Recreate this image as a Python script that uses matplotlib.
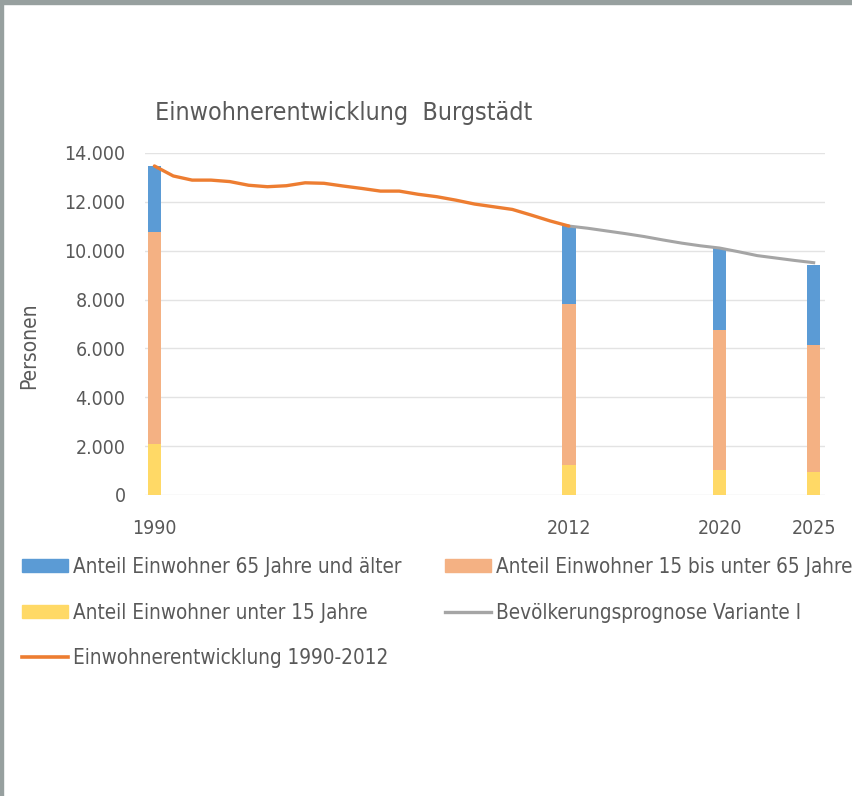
import matplotlib.pyplot as plt
from matplotlib.patches import Rectangle, Patch
from matplotlib.lines import Line2D
from matplotlib.ticker import FuncFormatter

plt.rcParams['font.family'] = ['DejaVu Sans']
plt.rcParams['font.stretch'] = 'condensed'

# Altersstruktur in den Stichjahren
bar_years = [1990, 2012, 2020, 2025]
under_15 = [2100, 1230, 1020, 940]
age_15_65 = [8670, 6590, 5730, 5200]
age_65_plus = [2700, 3190, 3360, 3270]

# Einwohnerentwicklung 1990-2012
hist_years = list(range(1990, 2013))
hist_pop = [13470, 13060, 12890, 12890, 12830, 12680, 12620, 12660, 12780, 12760,
            12650, 12550, 12440, 12440, 12310, 12210, 12070, 11910, 11800, 11690,
            11460, 11220, 11010]

# Bevölkerungsprognose Variante I
prog_years = list(range(2012, 2026))
prog_pop = [11010, 10920, 10810, 10700, 10580, 10440, 10310, 10200, 10110, 9960,
            9800, 9700, 9600, 9510]

c_old = '#5B9BD5'
c_mid = '#F4B183'
c_young = '#FFD966'
c_hist = '#ED7D31'
c_prog = '#A5A5A5'
c_text = '#595959'

fig = plt.figure(figsize=(8.53, 7.96), dpi=100)
ax = fig.add_axes([145 / 853, 1 - 495 / 796, 680 / 853, 342 / 796])

w = 0.72
ax.bar(bar_years, under_15, width=w, color=c_young, zorder=2)
ax.bar(bar_years, age_15_65, width=w, bottom=under_15, color=c_mid, zorder=2)
base = [a + b for a, b in zip(under_15, age_15_65)]
ax.bar(bar_years, age_65_plus, width=w, bottom=base, color=c_old, zorder=2)

ax.plot(prog_years, prog_pop, color=c_prog, lw=2.2, zorder=3)
ax.plot(hist_years, hist_pop, color=c_hist, lw=2.4, zorder=4, solid_capstyle='round')

ax.set_xlim(1989.5, 2025.6)
ax.set_ylim(0, 14000)
ax.set_xticks(bar_years)
ax.set_yticks(range(0, 14001, 2000))
ax.yaxis.set_major_formatter(FuncFormatter(lambda v, p: f'{int(v):,}'.replace(',', '.')))
ax.grid(axis='y', color='#E3E3E3', lw=1, zorder=0)
for s in ax.spines.values():
    s.set_visible(False)
ax.tick_params(length=0, colors=c_text, labelsize=14)
ax.tick_params(axis='x', pad=17.5)
ax.tick_params(axis='y', pad=14)
ax.set_ylabel('Personen', color=c_text, fontsize=15)
ax.yaxis.set_label_coords(-0.155, 0.436)

fig.text(155 / 853, 1 - 113 / 796, 'Einwohnerentwicklung  Burgstädt', color=c_text,
         fontsize=18, va='center', ha='left')

# Reihenfolge spaltenweise, damit die Legende zeilenweise gelesen wird
handles = [
    Patch(color=c_old, label='Anteil Einwohner 65 Jahre und älter'),
    Patch(color=c_young, label='Anteil Einwohner unter 15 Jahre'),
    Line2D([], [], color=c_hist, lw=2.6, label='Einwohnerentwicklung 1990-2012'),
    Patch(color=c_mid, label='Anteil Einwohner 15 bis unter 65 Jahre'),
    Line2D([], [], color=c_prog, lw=2.4, label='Bevölkerungsprognose Variante I'),
]
leg = fig.legend(handles=handles, ncol=2, loc='upper left',
                 bbox_to_anchor=(22 / 853, 1 - 557 / 796), frameon=False,
                 borderpad=0, borderaxespad=0,
                 fontsize=14.9, labelcolor=c_text, handlelength=2.22, handleheight=0.6,
                 handletextpad=0.25, labelspacing=1.24, columnspacing=2.1)

# Rahmen oben und links
fig.patches.append(Rectangle((0, 1 - 4 / 796), 1, 4 / 796, transform=fig.transFigure,
                             color='#97A09F', zorder=10))
fig.patches.append(Rectangle((0, 0), 3 / 853, 1, transform=fig.transFigure,
                             color='#97A09F', zorder=10))

fig.savefig('out.png', dpi=100)
